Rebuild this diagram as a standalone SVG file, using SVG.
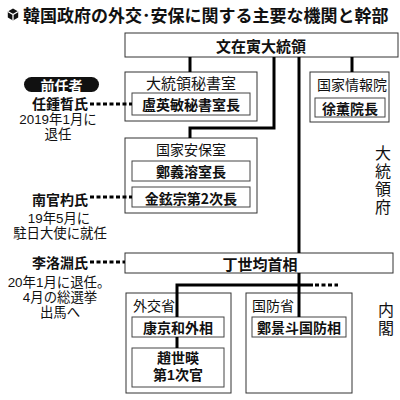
<svg xmlns="http://www.w3.org/2000/svg" width="400" height="400" viewBox="0 0 400 400">
<style>
text{font-family:"Noto Sans CJK JP","Noto Sans CJK SC",sans-serif;dominant-baseline:central;fill:#111}
.ml{font-family:"Liberation Sans","Noto Sans CJK JP","Noto Sans CJK SC",sans-serif}
.m{text-anchor:middle}
.s{text-anchor:start}
.e{text-anchor:end}
.b{font-weight:bold}
.f13{font-size:13.4px}
.f14{font-size:14px}
.f15{font-size:15px}
.f16{font-size:16px}
.f17{font-size:17px}
.box{fill:#fff;stroke:#333;stroke-width:1}
.inner{fill:#fff;stroke:#444;stroke-width:1}
.conn{stroke:#000;stroke-width:3;fill:none}
.dash{stroke:#000;stroke-width:3;fill:none;stroke-dasharray:4 2.5}
</style>
<rect width="400" height="400" fill="#fff"/>
<g id="title">
<polygon points="13,8.5 18.2,11.5 18.2,17.5 13,20.5 7.8,17.5 7.8,11.5" fill="#111"/>
<path d="M7.8,11.5 L13,14.5 L18.2,11.5 M13,14.5 V20.5" stroke="#fff" stroke-width="1.3" fill="none"/>
<text x="23" y="14" class="s b f17">韓国政府の外交･安保に関する主要な機関と幹部</text>
</g>
<g id="president">
<rect class="box" x="125" y="33" width="273" height="24"/>
<text x="261" y="45" class="m b f15">文在寅大統領</text>
</g>
<g id="secretariat">
<rect class="box" x="125" y="72" width="132" height="49"/>
<text x="191" y="82" class="m f15">大統領秘書室</text>
<rect class="inner" x="132" y="93" width="118" height="22"/>
<text x="191" y="104" class="m b f14">盧英敏秘書室長</text>
</g>
<g id="nis">
<rect class="box" x="310" y="72" width="79" height="50"/>
<text x="352" y="84" class="m f14">国家情報院</text>
<rect class="inner" x="315" y="98" width="70" height="19"/>
<text x="350" y="107.5" class="m b f14">徐薫院長</text>
</g>
<g id="nsc">
<rect class="box" x="125" y="138" width="132" height="75"/>
<text x="191" y="149" class="m f14">国家安保室</text>
<rect class="inner" x="132" y="161" width="118" height="20"/>
<text x="191" y="171" class="m b f14">鄭義溶室長</text>
<rect class="inner" x="132" y="187" width="118" height="20"/>
<text x="191" y="197.5" class="m b f14">金鉉宗第2次長</text>
</g>
<g id="pm">
<rect class="box" x="125" y="253" width="268" height="20"/>
<text x="260" y="263" class="m b f15">丁世均首相</text>
</g>
<g id="mofa">
<rect class="box" x="126" y="293" width="105" height="100"/>
<text x="133" y="305" class="s f14">外交省</text>
<rect class="inner" x="132" y="317" width="92" height="20"/>
<text x="178" y="327" class="m b f14">康京和外相</text>
<rect class="inner" x="132" y="348" width="92" height="39"/>
<text class="ml m b f14"><tspan x="178" y="358">趙世暎</tspan><tspan x="178" y="375">第1次官</tspan></text>
</g>
<g id="mnd">
<rect class="box" x="246" y="293" width="106" height="100"/>
<text x="252" y="305" class="s f14">国防省</text>
<rect class="inner" x="252" y="317" width="94" height="20"/>
<text x="299" y="327" class="m b f14">鄭景斗国防相</text>
</g>
<g id="side-labels">
<text class="ml m f16"><tspan x="383" y="153">大</tspan><tspan x="383" y="171">統</tspan><tspan x="383" y="189">領</tspan><tspan x="383" y="207">府</tspan></text>
<text class="ml m f16"><tspan x="386" y="310">内</tspan><tspan x="386" y="328">閣</tspan></text>
</g>
<g id="predecessors">
<rect x="24" y="77" width="75" height="15" rx="7.5" fill="#111"/>
<text x="61.5" y="84.5" class="m b f14" style="fill:#fff">前任者</text>
<text x="88" y="103" class="e b f14">任鍾晳氏</text>
<text class="ml m f13"><tspan x="58" y="119">2019年1月に</tspan><tspan x="58" y="134">退任</tspan></text>
<text x="88" y="199" class="e b f14">南官杓氏</text>
<text class="ml m f13"><tspan x="59" y="218">19年5月に</tspan><tspan x="60" y="233">駐日大使に就任</tspan></text>
<text x="88" y="262" class="e b f14">李洛淵氏</text>
<text class="ml m f13"><tspan x="59" y="282">20年1月に退任。</tspan><tspan x="60" y="297">4月の総選挙</tspan><tspan x="60" y="312">出馬へ</tspan></text>
</g>
<g id="connectors">
<path class="conn" d="M190 57 V72"/>
<path class="conn" d="M274 57 V128 H190 V138"/>
<path class="conn" d="M352 57 V72"/>
<path class="conn" d="M299 57 V253"/>
<path class="conn" d="M299 273 V317"/>
<path class="conn" d="M177 317 V285 H313"/>
<path class="dash" d="M315 285 H338"/>
<path class="conn" d="M177 337 V348"/>
<path class="dash" d="M90 104 H132"/>
<path class="dash" d="M90 197 H132"/>
<path class="dash" d="M90 262 H125"/>
</g>
</svg>
